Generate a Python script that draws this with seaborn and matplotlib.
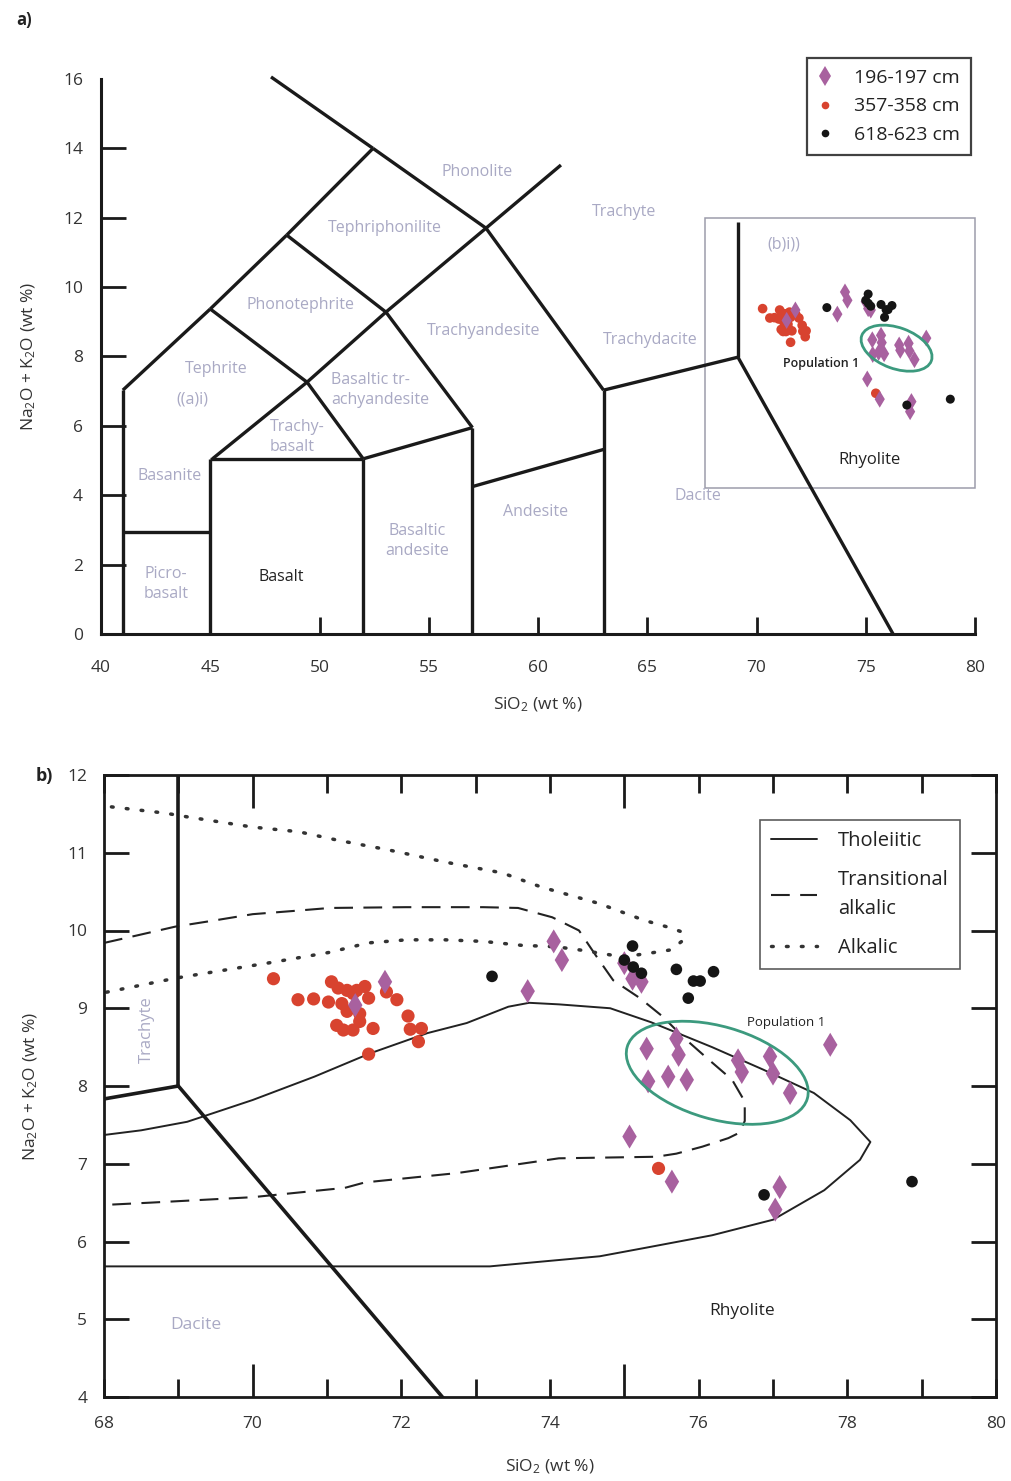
import numpy as np
import pandas as pd
import matplotlib
matplotlib.use("Agg")
import matplotlib.pyplot as plt
import seaborn as sns
from matplotlib.patches import Ellipse, Rectangle
from matplotlib.lines import Line2D
from matplotlib import transforms

# ---------------- data ----------------
samples = ["196-197 cm", "357-358 cm", "618-623 cm"]

purple_x = [71.78, 71.38, 74.05, 74.16, 73.70, 75.00, 75.11, 75.23, 75.30, 75.70,
            75.73, 75.32, 75.59, 75.84, 76.53, 76.58, 76.96, 77.00, 77.23, 77.77,
            75.07, 75.64, 77.09, 77.03]
purple_y = [9.34, 9.04, 9.86, 9.62, 9.22, 9.58, 9.38, 9.34, 8.48, 8.61,
            8.40, 8.06, 8.12, 8.08, 8.33, 8.18, 8.38, 8.16, 7.91, 8.53,
            7.35, 6.77, 6.70, 6.41]

red_x = [70.28, 70.61, 70.82, 71.02, 71.06, 71.15, 71.20, 71.27, 71.35, 71.40,
         71.51, 71.56, 71.27, 71.44, 71.13, 71.22, 71.35, 71.44, 71.62, 71.80,
         71.94, 72.09, 72.12, 72.27, 72.23, 71.56, 75.46]
red_y = [9.38, 9.11, 9.12, 9.08, 9.34, 9.26, 9.06, 9.23, 9.19, 9.23,
         9.28, 9.13, 8.96, 8.93, 8.78, 8.72, 8.72, 8.83, 8.74, 9.21,
         9.11, 8.90, 8.73, 8.74, 8.57, 8.41, 6.94]

black_x = [73.22, 75.11, 75.00, 75.12, 75.23, 75.70, 75.93, 76.02, 76.20, 75.86,
           76.88, 78.87]
black_y = [9.41, 9.80, 9.62, 9.53, 9.45, 9.50, 9.35, 9.35, 9.47, 9.13,
           6.60, 6.77]

# discrimination curves (panel b)
thol_x = [68.0, 68.50, 69.12, 70.00, 70.83, 71.58, 72.35, 72.88, 73.44, 73.72,
          74.12, 74.81, 75.36, 76.18, 76.87, 77.55, 78.04, 78.31, 78.17, 77.69,
          77.00, 76.18, 75.29, 74.67, 73.87, 73.19, 68.0]
thol_y = [7.37, 7.43, 7.54, 7.82, 8.12, 8.42, 8.68, 8.81, 9.02, 9.07,
          9.05, 9.00, 8.82, 8.50, 8.21, 7.91, 7.56, 7.28, 7.05, 6.66,
          6.28, 6.08, 5.92, 5.81, 5.74, 5.68, 5.68]

trans_x = [68.0, 68.46, 68.96, 69.49, 70.00, 70.53, 71.04, 72.06, 73.10, 73.57,
           74.03, 74.39, 74.63, 74.85, 75.21, 75.52, 75.79, 76.11, 76.45, 76.62,
           76.62, 76.55, 76.40, 76.05, 75.70, 75.43, 74.12, 72.75, 71.51, 71.24,
           70.00, 68.63, 68.0]
trans_y = [9.84, 9.94, 10.05, 10.13, 10.21, 10.25, 10.29, 10.30, 10.30, 10.29,
           10.17, 10.00, 9.66, 9.36, 9.13, 8.89, 8.63, 8.36, 8.08, 7.80,
           7.55, 7.40, 7.33, 7.22, 7.13, 7.09, 7.07, 6.88, 6.76, 6.69,
           6.57, 6.50, 6.47]

alk_x = [68.10, 68.82, 69.13, 70.00, 70.62, 71.15, 71.81, 72.59, 73.36, 73.88,
         74.65, 75.27, 75.60, 75.78, 75.80, 75.62, 75.35, 74.98, 74.40, 74.09,
         73.61, 73.10, 72.59, 72.07, 71.55, 71.04, 70.26, 69.49, 68.98, 68.0]
alk_y = [11.59, 11.51, 11.46, 11.33, 11.27, 11.16, 11.04, 10.88, 10.74, 10.56,
         10.35, 10.13, 10.04, 9.98, 9.88, 9.75, 9.71, 9.66, 9.75, 9.79,
         9.81, 9.86, 9.88, 9.88, 9.84, 9.72, 9.59, 9.47, 9.39, 9.20]

# TAS field boundaries (panel a), as (x0, y0, x1, y1)
tas_segments = [
    (41.0, 0.0, 41.0, 7.03), (41.0, 7.03, 45.0, 9.37), (45.0, 9.37, 48.5, 11.5),
    (48.5, 11.5, 52.45, 14.0), (52.45, 14.0, 47.78, 16.06), (52.45, 14.0, 57.62, 11.70),
    (57.62, 11.70, 61.05, 13.52), (57.62, 11.70, 63.0, 7.03), (48.5, 11.5, 53.04, 9.28),
    (53.04, 9.28, 57.62, 11.70), (45.0, 9.37, 49.43, 7.26), (49.43, 7.26, 53.04, 9.28),
    (53.04, 9.28, 57.0, 5.95), (49.43, 7.26, 52.0, 5.05), (49.43, 7.26, 45.1, 5.05),
    (45.0, 5.05, 52.0, 5.05), (45.0, 0.0, 45.0, 5.05), (52.0, 0.0, 52.0, 5.05),
    (52.0, 5.05, 57.0, 5.95), (57.0, 0.0, 57.0, 5.95), (57.0, 4.25, 63.0, 5.32),
    (63.0, 0.0, 63.0, 7.03), (63.0, 7.03, 69.15, 7.98), (69.15, 7.98, 69.15, 11.88),
    (69.15, 7.98, 76.25, 0.0), (41.0, 2.95, 45.0, 2.95),
]
tas_b_segments = [
    (69.0, 8.0, 69.0, 12.5), (67.0, 7.667, 69.0, 8.0), (69.0, 8.0, 73.44, 3.0),
]

field_labels_a = [
    ("Phonolite", 57.21, 13.32, "center"), ("Tephriphonilite", 53.0, 11.70, "center"),
    ("Trachyte", 63.94, 12.16, "center"), ("(b)i))", 71.26, 11.24, "center"),
    ("Phonotephrite", 49.11, 9.48, "center"), ("Trachyandesite", 57.53, 8.73, "center"),
    ("Trachydacite", 65.13, 8.47, "center"), ("Tephrite", 45.26, 7.64, "center"),
    ("((a)i)", 44.16, 6.75, "center"), ("Basaltic tr-\nachyandesite", 50.53, 7.03, "left"),
    ("Trachy-\nbasalt", 47.73, 5.68, "left"), ("Basanite", 43.16, 4.55, "center"),
    ("Basaltic\nandesite", 54.46, 2.68, "center"), ("Andesite", 59.91, 3.52, "center"),
    ("Dacite", 67.32, 3.98, "center"), ("Picro-\nbasalt", 42.97, 1.44, "center"),
]

purple = "#a8619f"
red = "#d8432f"
black = "#151515"
field_col = "#a9a9c4"
ell_col = "#3c9a7e"

df = pd.concat([
    pd.DataFrame({"SiO2": red_x, "alk": red_y, "sample": samples[1]}),
    pd.DataFrame({"SiO2": purple_x, "alk": purple_y, "sample": samples[0]}),
    pd.DataFrame({"SiO2": black_x, "alk": black_y, "sample": samples[2]}),
], ignore_index=True)
palette = {samples[0]: purple, samples[1]: red, samples[2]: black}
markers = {samples[0]: "d", samples[1]: "o", samples[2]: "o"}

sns.set_theme(style="ticks")
FONT = "Open Sans"
plt.rcParams["font.family"] = [FONT, "DejaVu Sans"]
plt.rcParams["mathtext.fontset"] = "custom"
plt.rcParams["mathtext.rm"] = FONT
plt.rcParams["mathtext.it"] = FONT + ":italic"
plt.rcParams["mathtext.bf"] = FONT + ":bold"

W, H = 1011, 1481
fig = plt.figure(figsize=(W / 100, H / 100), dpi=100)
fig.patch.set_facecolor("white")

ax1 = fig.add_axes([101 / W, 1 - 634 / H, 874 / W, 555 / H])
ax2 = fig.add_axes([104 / W, 1 - 1397 / H, 892 / W, 622 / H])

tick_col = "#333333"

# ---------------- panel a ----------------
for (x0, y0, x1, y1) in tas_segments:
    ax1.plot([x0, x1], [y0, y1], color="#1a1a1a", lw=2.4, solid_capstyle="butt", zorder=2,
             clip_on=False)
ax1.add_patch(Rectangle((67.64, 4.2), 80 - 67.64, 12.0 - 4.2, fill=False,
                        edgecolor="#9c9cab", lw=1.1, zorder=1, clip_on=False))
for txt, x, y, ha in field_labels_a:
    ax1.text(x, y, txt, color=field_col, fontsize=11.5, ha=ha, va="center", linespacing=1.3)
ax1.text(48.24, 1.64, "Basalt", color="#222222", fontsize=11.5, ha="center", va="center")
ax1.text(75.19, 5.02, "Rhyolite", color="#222222", fontsize=12, ha="center", va="center")
ax1.text(72.95, 7.81, "Population 1", color="#222222", fontsize=9, ha="center",
         va="center", fontweight="semibold")

sns.scatterplot(data=df, x="SiO2", y="alk", hue="sample", style="sample", size="sample",
                palette=palette, markers=markers,
                sizes={samples[0]: 75, samples[1]: 48, samples[2]: 42},
                hue_order=samples, style_order=samples, size_order=samples,
                edgecolor="none", linewidth=0, legend=False, ax=ax1, zorder=3)

ax1.add_patch(Ellipse((0, 0), width=0.74, height=0.41, angle=-20, fill=False,
                      edgecolor=ell_col, lw=2.0, zorder=4,
                      transform=fig.dpi_scale_trans + transforms.ScaledTranslation(76.41, 8.24, ax1.transData)))

ax1.set_xlim(40, 80)
ax1.set_ylim(0, 16)
ax1.set_xticks(np.arange(40, 81, 5))
yt1 = np.arange(0, 17, 2)
ax1.set_yticks(yt1)
ax1.tick_params(axis="x", direction="in", length=12, width=2, color="#1a1a1a",
                labelsize=12.5, labelcolor=tick_col, pad=19)
ax1.tick_params(axis="y", direction="in", length=18, width=2, color="#1a1a1a",
                labelsize=12.5, labelcolor=tick_col, pad=13)
for v, tk in zip(yt1, ax1.yaxis.get_major_ticks()):
    if v == 16:
        tk.tick1line.set_visible(False)
for s in ["top", "right"]:
    ax1.spines[s].set_visible(False)
for s in ["left", "bottom"]:
    ax1.spines[s].set_linewidth(2.2)
    ax1.spines[s].set_color("#1a1a1a")
ax1.set_xlabel(r"SiO$_\mathregular{2}$ (wt %)", fontsize=12.5, color=tick_col, labelpad=14)
ax1.set_ylabel(r"Na$_\mathregular{2}$O + K$_\mathregular{2}$O (wt %)", fontsize=12.5,
               color=tick_col, labelpad=18)

handles = [
    Line2D([], [], marker="d", color=purple, ls="none", markersize=10, markeredgewidth=0),
    Line2D([], [], marker="o", color=red, ls="none", markersize=5.5, markeredgewidth=0),
    Line2D([], [], marker="o", color=black, ls="none", markersize=5.5, markeredgewidth=0),
]
leg1 = ax1.legend(handles, samples, loc="upper right", bbox_to_anchor=(0.9954, 1.0378),
                  frameon=True, fancybox=False, fontsize=14, handlelength=0.8,
                  handletextpad=1.1, borderpad=0.55, labelspacing=0.55, borderaxespad=0)
leg1.get_frame().set_edgecolor("#111111")
leg1.get_frame().set_linewidth(1.6)
for t in leg1.get_texts():
    t.set_color("#222222")

# ---------------- panel b ----------------
sns.lineplot(x=thol_x, y=thol_y, sort=False, estimator=None, color="#222222", lw=1.4, ax=ax2,
             label="Tholeiitic")
sns.lineplot(x=trans_x, y=trans_y, sort=False, estimator=None, color="#222222", lw=1.5, ax=ax2,
             label="Transitional\nalkalic", dashes=False)
sns.lineplot(x=alk_x, y=alk_y, sort=False, estimator=None, color="#333333", lw=2.5, ax=ax2,
             label="Alkalic")
lines = ax2.get_lines()
lines[1].set_dashes((9, 5))
lines[2].set_dashes((0.5, 3.8))
lines[2].set_dash_capstyle("round")

for (x0, y0, x1, y1) in tas_b_segments:
    ax2.plot([x0, x1], [y0, y1], color="#1a1a1a", lw=2.6, zorder=2)

sns.scatterplot(data=df, x="SiO2", y="alk", hue="sample", style="sample", size="sample",
                palette=palette, markers=markers,
                sizes={samples[0]: 150, samples[1]: 90, samples[2]: 70},
                hue_order=samples, style_order=samples, size_order=samples,
                edgecolor="none", linewidth=0, legend=False, ax=ax2, zorder=3)

ax2.add_patch(Ellipse((0, 0), width=1.874, height=0.928, angle=-16, fill=False,
                      edgecolor=ell_col, lw=2.0, zorder=4,
                      transform=fig.dpi_scale_trans + transforms.ScaledTranslation(76.25, 8.17, ax2.transData)))

ax2.text(68.58, 8.72, "Trachyte", color=field_col, fontsize=12, rotation=90,
         ha="center", va="center")
ax2.text(69.24, 4.93, "Dacite", color=field_col, fontsize=12.5, ha="center", va="center")
ax2.text(76.58, 5.11, "Rhyolite", color="#222222", fontsize=12.5, ha="center", va="center")
ax2.text(77.18, 8.82, "Population 1", color="#222222", fontsize=9.5, ha="center", va="center")

ax2.set_xlim(68, 80)
ax2.set_ylim(4, 12)
xt = np.arange(68, 81, 1)
ax2.set_xticks(xt)
ax2.set_xticklabels([str(v) if v % 2 == 0 else "" for v in xt])
ax2.set_yticks(np.arange(4, 13, 1))
ax2.tick_params(axis="x", direction="in", length=13, width=2, color="#1a1a1a",
                labelsize=12.5, labelcolor=tick_col, pad=14, top=True, bottom=True)
ax2.tick_params(axis="y", direction="in", length=18, width=2, color="#1a1a1a",
                labelsize=12.5, labelcolor=tick_col, pad=12, left=True, right=True)
for v, tk in zip(xt, ax2.xaxis.get_major_ticks()):
    if v in (70, 75):
        tk.tick1line.set_markersize(24)
        tk.tick2line.set_markersize(24)
for s in ax2.spines.values():
    s.set_linewidth(2.0)
    s.set_color("#1a1a1a")
ax2.set_xlabel(r"SiO$_\mathregular{2}$ (wt %)", fontsize=12.5, color=tick_col, labelpad=18)
ax2.set_ylabel(r"Na$_\mathregular{2}$O + K$_\mathregular{2}$O (wt %)", fontsize=12.5,
               color=tick_col, labelpad=20)

leg2 = ax2.legend(loc="upper right", bbox_to_anchor=(0.9596, 0.9277), frameon=True,
                  fancybox=False, fontsize=14.5, handlelength=2.3, handletextpad=1.05,
                  borderpad=0.55, labelspacing=0.95, borderaxespad=0)
leg2.get_frame().set_edgecolor("#333333")
leg2.get_frame().set_linewidth(1.2)
for t in leg2.get_texts():
    t.set_color("#222222")
    t.set_linespacing(1.6)

fig.text(16 / W, 1 - 20 / H, "a)", fontsize=12, fontweight="bold", color="#222222",
         ha="left", va="center")
fig.text(36 / W, 1 - 776 / H, "b)", fontsize=13, fontweight="bold", color="#222222",
         ha="left", va="center")

fig.savefig("out.png", dpi=100, facecolor="white")
